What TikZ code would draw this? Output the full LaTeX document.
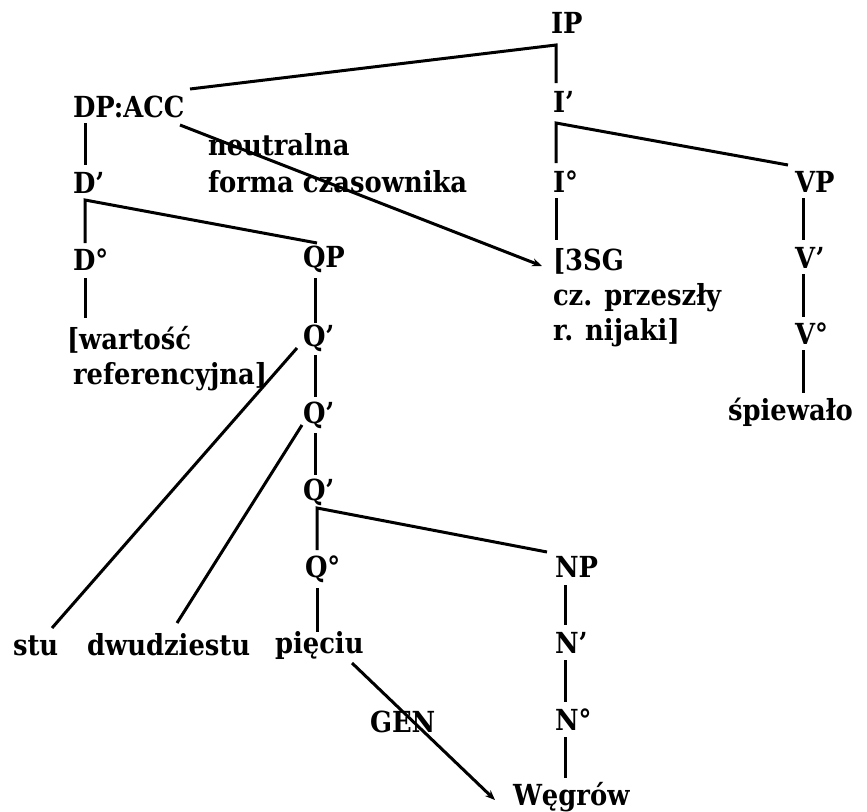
\documentclass[tikz,border=0pt]{standalone}
\usepackage{fontspec}
\setmainfont{DejaVu Serif}
\newfontfamily\treefont{DejaVu Serif}[Ligatures=TeX, FakeStretch=0.89, BoldFont={* Bold}, BoldFeatures={FakeStretch=0.89}]
\usetikzlibrary{arrows.meta}

\tikzset{
  lab/.style={anchor=base west, inner sep=0pt, outer sep=0pt,
              font=\treefont\bfseries\fontsize{29}{33}\selectfont},
  edge/.style={line width=3pt},
  relation/.style={line width=3pt, -{Stealth[length=10pt,width=8pt]}},
}

\begin{document}
\begin{tikzpicture}[x=1pt, y=-1pt]
  \fill[white] (0,0) rectangle (867,811);
  \useasboundingbox (0,0) rectangle (867,811);

  % labels of the tree
  \node[lab] (IP)    at (551,33)  {IP};
  \node[lab] (DPACC) at (73,117)  {DP:ACC};
  \node[lab] (Ibar)  at (553,112) {I’};
  \node[lab] (neut)  at (208,155) {neutralna};
  \node[lab] (forma) at (208,192) {forma czasownika};
  \node[lab] (Dbar)  at (73,193)  {D’};
  \node[lab] (Icirc) at (553,192) {I°};
  \node[lab] (VP)    at (795,192) {VP};
  \node[lab] (Dcirc) at (73,270)  {D°};
  \node[lab] (QP)    at (303,267) {QP};
  \node[lab] (sgA)   at (553,270) {[3SG};
  \node[lab] (sgB)   at (553,305) {cz. przeszły};
  \node[lab] (sgC)   at (553,340) {r. nijaki]};
  \node[lab] (Vbar)  at (795,268) {V’};
  \node[lab] (Vcirc) at (795,344) {V°};
  \node[lab] (spiew) at (728,420) {śpiewało};
  \node[lab] (wart)  at (67,349)  {[wartość};
  \node[lab] (refer) at (73,384)  {referencyjna]};
  \node[lab] (Qa)    at (303,346) {Q’};
  \node[lab] (Qb)    at (303,423) {Q’};
  \node[lab] (Qc)    at (303,500) {Q’};
  \node[lab] (Qd)    at (305,577) {Q°};
  \node[lab] (NP)    at (555,577) {NP};
  \node[lab] (stu)   at (13,655)  {stu};
  \node[lab] (dwu)   at (87,655)  {dwudziestu};
  \node[lab] (piec)  at (275,653) {pięciu};
  \node[lab] (Nbar)  at (555,653) {N’};
  \node[lab] (GEN)   at (370,732) {GEN};
  \node[lab] (Ncirc) at (555,730) {N°};
  \node[lab] (Weg)   at (513,805) {Węgrów};

  % branches
  \draw[edge] ([shift={(117,-28)}]DPACC.base west) -- ([shift={(5,12)}]IP.base west)
              -- ([shift={(3,-29)}]Ibar.base west);
  \draw[edge] ([shift={(12,6)}]DPACC.base west) -- ([shift={(12,-28)}]Dbar.base west);
  \draw[edge] ([shift={(12,-27)}]Dcirc.base west) -- ([shift={(12,7)}]Dbar.base west)
              -- ([shift={(14,-24)}]QP.base west);
  \draw[edge] ([shift={(3,-29)}]Icirc.base west) -- ([shift={(3,11)}]Ibar.base west)
              -- ([shift={(-7,-27)}]VP.base west);
  \draw[edge] ([shift={(3,6)}]Icirc.base west) -- ([shift={(3,-30)}]sgA.base west);
  \draw[edge] ([shift={(8,6)}]VP.base west) -- ([shift={(8,-28)}]Vbar.base west);
  \draw[edge] ([shift={(8,6)}]Vbar.base west) -- ([shift={(8,-27)}]Vcirc.base west);
  \draw[edge] ([shift={(8,6)}]Vcirc.base west) -- ([shift={(75,-27)}]spiew.base west);
  \draw[edge] ([shift={(12,8)}]Dcirc.base west) -- ([shift={(18,-31)}]wart.base west);
  \draw[edge] ([shift={(12,11)}]QP.base west) -- ([shift={(12,-23)}]Qa.base west);
  \draw[edge] ([shift={(12,9)}]Qa.base west) -- ([shift={(12,-26)}]Qb.base west);
  \draw[edge] ([shift={(12,10)}]Qb.base west) -- ([shift={(12,-25)}]Qc.base west);
  \draw[edge] ([shift={(12,-27)}]Qd.base west) -- ([shift={(14,8)}]Qc.base west)
              -- ([shift={(-8,-25)}]NP.base west);
  \draw[edge] ([shift={(12,11)}]Qd.base west) -- ([shift={(42,-21)}]piec.base west);
  \draw[edge] ([shift={(10,8)}]NP.base west) -- ([shift={(10,-28)}]Nbar.base west);
  \draw[edge] ([shift={(10,7)}]Nbar.base west) -- ([shift={(10,-28)}]Ncirc.base west);
  \draw[edge] ([shift={(10,7)}]Ncirc.base west) -- ([shift={(52,-27)}]Weg.base west);
  \draw[edge] ([shift={(-6,2)}]Qa.base west) -- ([shift={(39,-27)}]stu.base west);
  \draw[edge] ([shift={(-1,2)}]Qb.base west) -- ([shift={(90,-32)}]dwu.base west);

  % agreement and case arrows
  \draw[relation] ([shift={(107,8)}]DPACC.base west) -- ([shift={(-11,-4)}]sgA.base west);
  \draw[relation] ([shift={(77,10)}]piec.base west) -- ([shift={(-18,-5)}]Weg.base west);
\end{tikzpicture}
\end{document}
